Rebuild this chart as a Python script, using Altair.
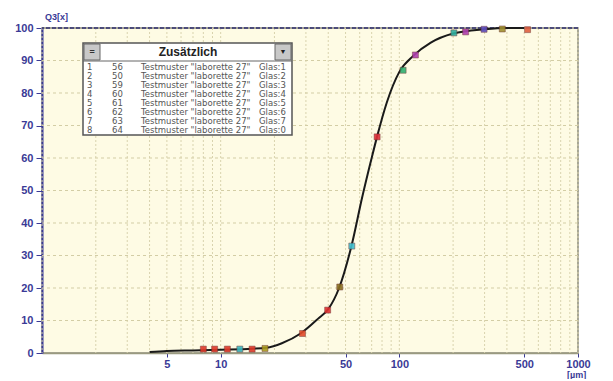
import altair as alt
import pandas as pd

# Cumulative curve Q3(x)
curve_x = [4.0, 5, 7, 10, 15, 18, 22, 28, 35, 40, 46, 54, 62, 70, 75, 85, 100, 120, 150, 200, 300, 400, 500]
curve_y = [0.3, 0.6, 0.8, 1.0, 1.3, 1.6, 3.0, 6.0, 10.5, 13.5, 20.0, 33.0, 48.0, 60.0, 66.5, 77.0, 86.5, 91.5, 95.5, 98.3, 99.6, 100, 100]

# Measured points
marker_x = [8.0, 9.25, 10.9, 12.8, 15.0, 17.7, 28.7, 39.7, 46.4, 54.2, 75.1, 105, 123, 202, 235, 298, 377, 522]
marker_y = [1.2, 1.2, 1.2, 1.2, 1.2, 1.4, 6.0, 13.2, 20.3, 32.9, 66.5, 87.0, 91.7, 98.5, 98.8, 99.6, 99.7, 99.5]
marker_c = ["#e03a2a", "#e03a2a", "#e03a2a", "#3ab8c0", "#e03a2a", "#a89a20",
            "#e04a2a", "#e03030", "#8a7020", "#40c0d0", "#e0303a", "#30b070",
            "#b040b0", "#30b0a0", "#b040b0", "#6050c0", "#a09030", "#e06040"]

# Legend table
rows_idx = ["1", "2", "3", "4", "5", "6", "7", "8"]
rows_num = ["56", "50", "59", "60", "61", "62", "63", "64"]
rows_glas = ["1", "2", "3", "4", "5", "6", "7", "0"]

x_labels = [5, 10, 50, 100, 500, 1000]
x_grid = [v * m for m in (1, 10, 100) for v in range(1, 10)] + [1000]
y_ticks = list(range(0, 101, 10))

navy = "#3a3a96"

curve_df = pd.DataFrame({"x": curve_x, "y": curve_y})
mark_df = pd.DataFrame({"x": marker_x, "y": marker_y, "c": marker_c})

xs = alt.Scale(type="log", domain=[1, 1000])
ys = alt.Scale(domain=[0, 100])

x_axis = alt.Axis(
    values=x_labels, grid=False, title=None, labelColor=navy, labelFont="Liberation Sans",
    labelFontWeight="bold", labelFontSize=11, tickColor=navy, tickSize=4, labelPadding=1,
    domainColor="#9a9a80", domainWidth=1.5, labelFlush=False, labelOverlap=False, format="d")
y_axis = alt.Axis(
    values=y_ticks, grid=False, title=None, labelColor=navy, labelFont="Liberation Sans",
    labelFontWeight="bold", labelFontSize=11, tickColor=navy, tickSize=6, labelPadding=3,
    domainColor=navy, domainWidth=2, labelOverlap=False)

grid_x = alt.Chart(pd.DataFrame({"x": x_grid})).mark_rule(
    color="#d9d3ae", strokeDash=[2, 2], strokeWidth=1
).encode(x=alt.X("x:Q", scale=xs, axis=x_axis))

grid_y = alt.Chart(pd.DataFrame({"y": y_ticks[1:]})).mark_rule(
    color="#d3cda5", strokeDash=[3, 3], strokeWidth=1
).encode(y=alt.Y("y:Q", scale=ys, axis=y_axis))

line = alt.Chart(curve_df).mark_line(color="#1a1a1a", strokeWidth=2, interpolate="monotone").encode(
    x=alt.X("x:Q", scale=xs, axis=x_axis),
    y=alt.Y("y:Q", scale=ys, axis=y_axis),
)

points = alt.Chart(mark_df).mark_square(size=36, opacity=0.9, stroke="#6a3030", strokeWidth=0.5).encode(
    x=alt.X("x:Q", scale=xs, axis=x_axis), y=alt.Y("y:Q", scale=ys, axis=y_axis),
    color=alt.Color("c:N", scale=None)
)

top_rule = alt.Chart(pd.DataFrame({"y": [100]})).mark_rule(color="#2a2a70", strokeWidth=1.5, strokeDash=[4, 2]).encode(
    y=alt.Y("y:Q", scale=ys, axis=y_axis)
)

one = pd.DataFrame({"a": [0]})
# legend box (pixel layout relative to plot area)
OX, OY = -42, -28
def px(v):
    return v + OX
def py(v):
    return v + OY

box = alt.Chart(one).mark_rect(fill="#ffffff", stroke="#555555", strokeWidth=1.5).encode(
    x=alt.value(px(83)), x2=alt.value(px(292)), y=alt.value(py(43)), y2=alt.value(py(135)))
btn_l = alt.Chart(one).mark_rect(fill="#c8c8c8", stroke="#666666", strokeWidth=1).encode(
    x=alt.value(px(84)), x2=alt.value(px(100)), y=alt.value(py(44)), y2=alt.value(py(60)))
btn_r = alt.Chart(one).mark_rect(fill="#c8c8c8", stroke="#666666", strokeWidth=1).encode(
    x=alt.value(px(275)), x2=alt.value(px(291)), y=alt.value(py(44)), y2=alt.value(py(60)))
hdr_line = alt.Chart(one).mark_rule(color="#666666", strokeWidth=1).encode(
    x=alt.value(px(83)), x2=alt.value(px(292)), y=alt.value(py(61)))
hdr = alt.Chart(one).mark_text(text="Zusätzlich", font="Liberation Sans", fontWeight="bold",
                               fontSize=12, color="#222222").encode(
    x=alt.value(px(188)), y=alt.value(py(52)))
btn_l_t = alt.Chart(one).mark_text(text="=", fontSize=9, color="#333333", fontWeight="bold").encode(
    x=alt.value(px(92)), y=alt.value(py(52)))
btn_r_t = alt.Chart(one).mark_text(text="▼", fontSize=7, color="#222222").encode(
    x=alt.value(px(283)), y=alt.value(py(52)))

rows_df = pd.DataFrame({"i": rows_idx, "n": rows_num, "g": rows_glas, "r": list(range(len(rows_idx)))})
base_rows = alt.Chart(rows_df).transform_calculate(
    py=f"{py(67)} + datum.r * 9",
    label="'Testmuster \"laborette 27\"'",
    glas="'Glas:' + datum.g"
)
txt_style = dict(font="DejaVu Sans", fontSize=8.5, color="#555555", baseline="middle", align="left")
t1 = base_rows.mark_text(**txt_style).encode(x=alt.value(px(87)), y=alt.Y("py:Q", scale=None), text="i:N")
t2 = base_rows.mark_text(**txt_style).encode(x=alt.value(px(112)), y=alt.Y("py:Q", scale=None), text="n:N")
t3 = base_rows.mark_text(**txt_style).encode(x=alt.value(px(141)), y=alt.Y("py:Q", scale=None), text="label:N")
t4 = base_rows.mark_text(**txt_style).encode(x=alt.value(px(259)), y=alt.Y("py:Q", scale=None), text="glas:N")

q3 = alt.Chart(one).mark_text(text="Q3[x]", font="Liberation Sans", fontWeight="bold", fontSize=9,
                              color=navy, align="left").encode(x=alt.value(px(45)), y=alt.value(py(17)))
um = alt.Chart(one).mark_text(text="[µm]", font="Liberation Sans", fontWeight="bold", fontSize=9,
                              color=navy, align="left", baseline="middle").encode(
    x=alt.value(px(567)), y=alt.value(py(375)))

chart = alt.layer(
    grid_x, grid_y, top_rule, line, points,
    box, btn_l, btn_r, hdr_line, hdr, btn_l_t, btn_r_t, t1, t2, t3, t4, q3, um
).properties(
    width=536, height=325,
    autosize=alt.AutoSizeParams(type="none"),
    padding={"left": 34, "top": 20, "right": 20, "bottom": 26},
).configure_view(
    fill="#fefbe4", stroke="#8a8a78", strokeWidth=1.5
)

chart.save("out.html", embed_options={"renderer": "svg", "actions": False})
